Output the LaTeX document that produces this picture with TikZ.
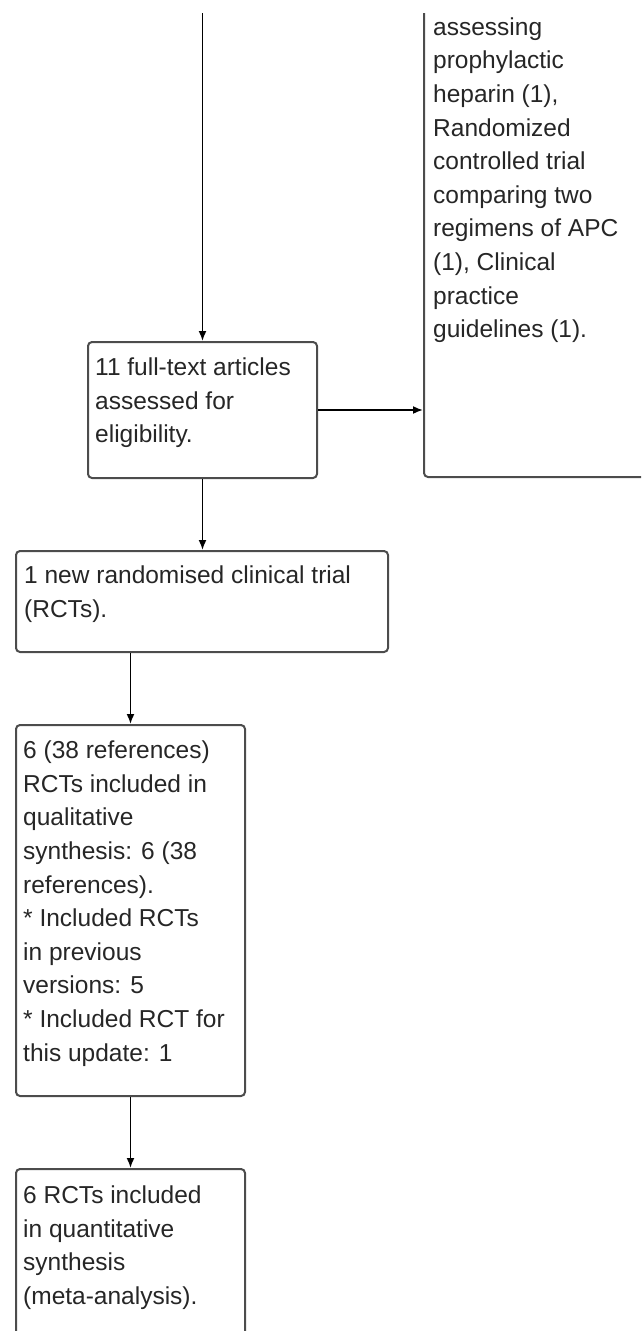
\documentclass[tikz,border=0pt]{standalone}
\usepackage{fontspec}
\setmainfont{Liberation Sans}
\usetikzlibrary{arrows.meta}
\begin{document}
\begin{tikzpicture}[x=1pt,y=-1pt,
  box/.style={draw=black!70, line width=2pt, rounded corners=4pt, inner sep=0pt, anchor=north west},
  txt/.style={inner sep=0pt, anchor=north west, align=left, font=\fontsize{24.5}{33.6}\selectfont, text=black!85},
  arr/.style={draw=black, line width=1.7pt, -{Latex[length=10pt,width=8pt]}}]
\useasboundingbox (0,0) rectangle (641,1331);
\clip (0,13) rectangle (641,1331);
% boxes
\node[box, minimum width=229pt, minimum height=136pt] (b1) at (87,341) {};
\node[box, minimum width=300pt, minimum height=516pt] (rb) at (423,-40) {};
\node[box, minimum width=372pt, minimum height=101pt] (b2) at (15,550) {};
\node[box, minimum width=229pt, minimum height=371pt] (b3) at (15,724) {};
\node[box, minimum width=229pt, minimum height=250pt] (b4) at (15,1168) {};
% texts
\node[txt] (rbt) at (433,11.6) {\strut assessing\\prophylactic\\heparin (1),\\Randomized\\controlled trial\\comparing two\\regimens of APC\\(1), Clinical\\practice\\guidelines (1).};
\node[txt] (b1t) at (95,352) {\strut 11 full-text articles\\assessed for\\eligibility.};
\node[txt] (b2t) at (24,560) {\strut 1 new randomised clinical trial\\(RCTs).};
\node[txt] (b3t) at (23,735) {\strut 6 (38 references)\\RCTs included in\\qualitative\\synthesis: 6 (38\\references).\\* Included RCTs\\in previous\\versions: 5\\* Included RCT for\\this update: 1};
\node[txt] (b4t) at (23,1180) {\strut 6 RCTs included\\in quantitative\\synthesis\\(meta-analysis).};
% connectors
\coordinate (top) at (b1.north |- 0,0);
\draw[arr] (top) -- (b1.north);
\draw[arr] (b1.east) -- (b1.east -| rb.west);
\draw[arr] (b1.south) -- (b1.south |- b2.north);
\draw[arr] (b3.north |- b2.south) -- (b3.north);
\draw[arr] (b3.south) -- (b4.north);
\end{tikzpicture}
\end{document}
